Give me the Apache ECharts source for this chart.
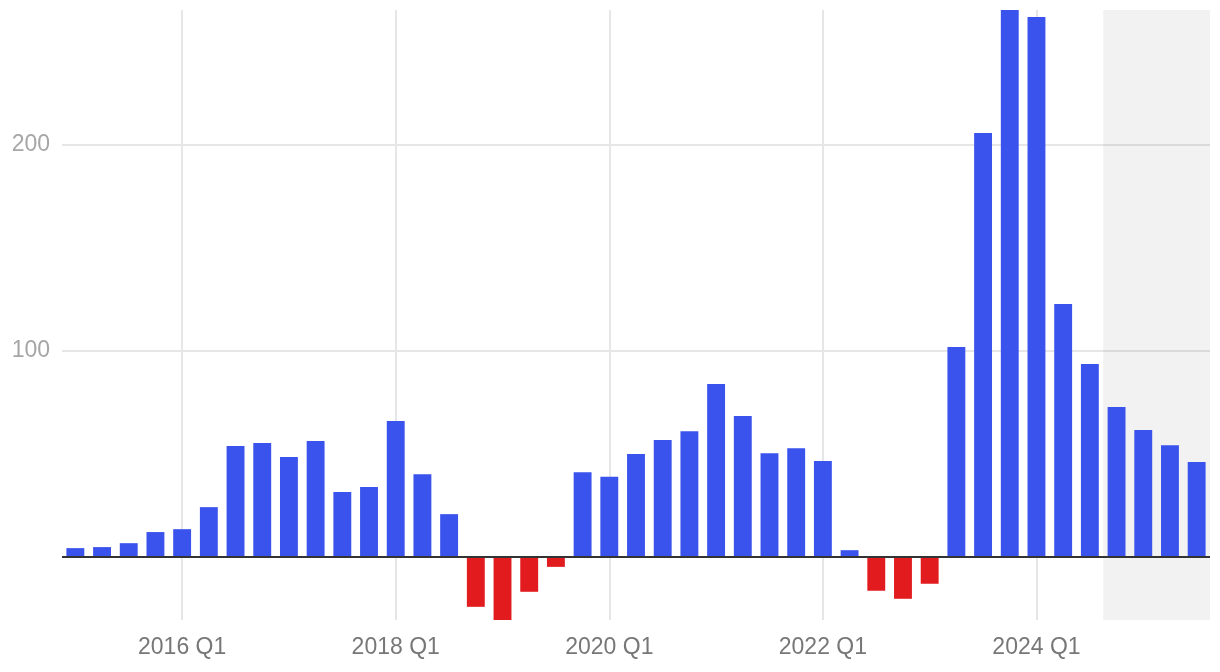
<!DOCTYPE html>
<html>
<head>
<meta charset="utf-8">
<script src="https://cdn.jsdelivr.net/npm/echarts@6/dist/echarts.min.js"></script>
<style>
html,body{margin:0;padding:0;background:#fff;}
#chart{width:1220px;height:672px;}
</style>
</head>
<body>
<div id="chart"></div>
<script>
// Quarters 2015 Q1 .. 2025 Q3
const categories = [
  '2015 Q1','2015 Q2','2015 Q3','2015 Q4',
  '2016 Q1','2016 Q2','2016 Q3','2016 Q4',
  '2017 Q1','2017 Q2','2017 Q3','2017 Q4',
  '2018 Q1','2018 Q2','2018 Q3','2018 Q4',
  '2019 Q1','2019 Q2','2019 Q3','2019 Q4',
  '2020 Q1','2020 Q2','2020 Q3','2020 Q4',
  '2021 Q1','2021 Q2','2021 Q3','2021 Q4',
  '2022 Q1','2022 Q2','2022 Q3','2022 Q4',
  '2023 Q1','2023 Q2','2023 Q3','2023 Q4',
  '2024 Q1','2024 Q2','2024 Q3','2024 Q4',
  '2025 Q1','2025 Q2','2025 Q3'
];
const values = [
  4.2, 4.7, 6.6, 12.0,
  13.4, 24.1, 53.8, 55.3,
  48.5, 56.2, 31.4, 33.9,
  65.9, 40.1, 20.7, -24.3,
  -30.7, -17.0, -4.9, 41.1,
  38.8, 49.9, 56.7, 61.0,
  83.9, 68.3, 50.3, 52.7,
  46.5, 3.2, -16.5, -20.4,
  -13.1, 101.9, 205.8, 265.5,
  262.1, 122.7, 93.6, 72.7,
  61.5, 54.2, 46.0
];
const labeledQuarters = ['2016 Q1','2018 Q1','2020 Q1','2022 Q1','2024 Q1'];
const forecastStart = '2024 Q4';

const BLUE = '#3a53ec';
const RED = '#e21b1e';
const FONT = "'Liberation Sans', Arial, Helvetica, sans-serif";

const showIdx = (i) => labeledQuarters.indexOf(categories[i]) !== -1;
const fStart = categories.indexOf(forecastStart) - 0.5;
const fEnd = categories.length - 0.5;

const chart = echarts.init(document.getElementById('chart'), null, {renderer: 'canvas'});
chart.setOption({
  animation: false,
  backgroundColor: '#ffffff',
  grid: {left: 62, right: 10, top: 10, bottom: 52, containLabel: false},
  xAxis: [
    {
      type: 'category',
      data: categories,
      boundaryGap: true,
      axisLine: {show: false, onZero: false},
      axisTick: {show: false},
      axisLabel: {
        interval: (i) => showIdx(i),
        color: '#777777',
        fontSize: 23,
        fontFamily: FONT,
        margin: 16
      },
      splitLine: {
        show: true,
        alignWithLabel: true,
        interval: (i) => showIdx(i),
        lineStyle: {color: '#e6e6e6', width: 2}
      }
    },
    {
      type: 'value',
      show: false,
      min: -0.5,
      max: fEnd,
      splitLine: {show: false}
    }
  ],
  yAxis: {
    type: 'value',
    min: 'dataMin',
    max: 'dataMax',
    splitNumber: 3,
    axisLine: {show: false},
    axisTick: {show: false},
    axisLabel: {
      showMinLabel: false,
      showMaxLabel: false,
      color: '#a6a6a6',
      fontSize: 23,
      fontFamily: FONT,
      margin: 12,
      formatter: (v) => (v === 0 || v % 100 !== 0) ? '' : String(v)
    },
    splitLine: {
      show: true,
      showMinLine: false,
      showMaxLine: false,
      lineStyle: {color: '#e6e6e6', width: 2}
    }
  },
  series: [
    {
      type: 'line',
      xAxisIndex: 1,
      yAxisIndex: 0,
      data: [],
      silent: true,
      z: 0,
      markArea: {
        silent: true,
        z: 0,
        itemStyle: {color: 'rgba(0,0,0,0.05)'},
        data: [[{xAxis: fStart}, {xAxis: fEnd}]]
      }
    },
    {
      type: 'bar',
      data: values,
      barCategoryGap: '33%',
      z: 2,
      itemStyle: {
        color: (p) => p.value < 0 ? RED : BLUE
      },
      markLine: {
        silent: true,
        symbol: 'none',
        label: {show: false},
        lineStyle: {color: '#333333', width: 2, type: 'solid'},
        data: [{yAxis: 0}]
      }
    }
  ]
});
</script>
</body>
</html>
